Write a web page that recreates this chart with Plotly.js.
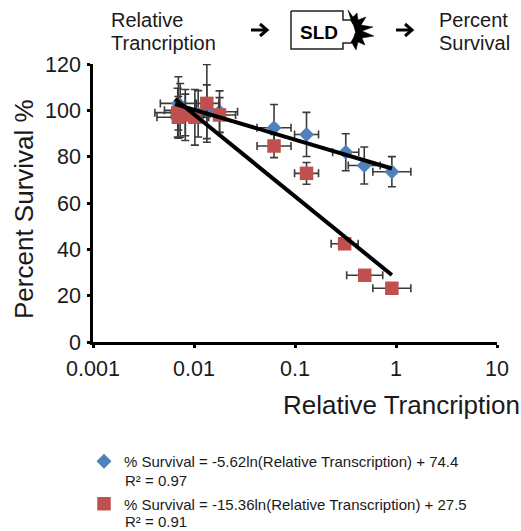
<!DOCTYPE html>
<html><head><meta charset="utf-8">
<script src="https://cdn.plot.ly/plotly-3.0.1.min.js"></script>
<style>html,body{margin:0;padding:0;background:#fff}</style></head>
<body><div id="chart" style="width:521px;height:531px"></div>
<script>
const blueX = [0.0070,0.0073,0.0082,0.0110,0.0134,0.0179,0.062,0.13,0.318,0.485,0.91];
const blueY = [103,100,98,98.5,99.4,99.4,92.5,89.6,81.9,76.2,73.5];
const blueYErr = [11.5,11.6,11,10,11.6,9,10,9.5,8,8,6.5];
const blueXPlus = [0.00356,0.0032,0.0031,0.0035,0.0050,0.0091,0.0293,0.041,0.110,0.213,0.493];
const blueXMinus = [0.00236,0.0022,0.0022,0.0026,0.0037,0.0060,0.0199,0.031,0.082,0.148,0.320];

const redX = [0.0069,0.0070,0.0082,0.0102,0.0134,0.0179,0.062,0.13,0.31,0.49,0.91];
const redY = [99,97,98,97,103,98,84.6,72.8,42.4,28.8,23.2];
const redYErr = [10.5,9,9,12,16.8,7.5,5,4.7,2,1,1.5];
const redXPlus = [0.0048,0.0043,0.0031,0.0038,0.0042,0.0079,0.0293,0.041,0.112,0.249,0.493];
const redXMinus = [0.0028,0.0027,0.0022,0.0028,0.0032,0.0055,0.0199,0.031,0.082,0.165,0.320];

const trendX = [0.0065,0.91];
const blueTrendY = [102.7,74.9];
const redTrendY = [104.9,28.9];

const xTickVals = [0.001,0.01,0.1,1,10];
const xTickText = ['0.001','0.01','0.1','1','10'];
const yTickVals = [0,20,40,60,80,100,120];
const blueName = '% Survival = -5.62ln(Relative Transcription) + 74.4';
const redName = '% Survival = -15.36ln(Relative Transcription) + 27.5';

const FONT = '"Liberation Sans", Arial, sans-serif';
const TEXT = '#1a1a1a';
const W = 521, H = 531, L = 93, R = 497, T = 64, B = 342;
const px = x => (x - L) / (R - L);
const py = y => (B - y) / (B - T);
const pathOf = pts => pts.map((p, i) => (i ? 'L' : 'M') + px(p[0]).toFixed(4) + ',' + py(p[1]).toFixed(4)).join(' ');

function series(name, x, y, yErr, xPlus, xMinus, color, symbol, size, group) {
  const bar = { thickness: 1.6, width: 4, color: '#3a3a3a' };
  return {
    type: 'scatter', mode: 'markers', name, x, y, legendgroup: group,
    marker: { color, symbol, size, line: { width: 0 } },
    error_y: Object.assign({ type: 'data', array: yErr, visible: true }, bar),
    error_x: Object.assign({ type: 'data', symmetric: false, array: xPlus, arrayminus: xMinus, visible: true }, bar),
    hoverinfo: 'x+y'
  };
}
const trend = (y, group) => ({
  type: 'scatter', mode: 'lines', x: trendX, y, showlegend: false, legendgroup: group,
  line: { color: '#000', width: 4 }, hoverinfo: 'skip'
});

const traces = [
  series(blueName, blueX, blueY, blueYErr, blueXPlus, blueXMinus, '#4f81bd', 'diamond', 11.5, 'a'),
  series(redName, redX, redY, redYErr, redXPlus, redXMinus, '#c0504d', 'square', 13.5, 'b'),
  trend(blueTrendY, 'a'),
  trend(redTrendY, 'b')
];

const note = (x, y, text, extra) => Object.assign({
  xref: 'paper', yref: 'paper', x: px(x), y: py(y), text, showarrow: false,
  xanchor: 'left', yanchor: 'middle', align: 'left', font: { family: FONT, size: 20, color: TEXT }
}, extra || {});

const annotations = [
  note(109, 20, 'Relative'),
  note(109, 43, 'Trancription'),
  note(437, 20, 'Percent'),
  note(437, 43, 'Survival'),
  note(319, 32, 'SLD', { xanchor: 'center', font: { family: FONT, size: 19, color: '#000', weight: 'bold' } }),
  note(522, 405, 'Relative Trancription', { xanchor: 'right', font: { family: FONT, size: 26, color: TEXT } }),
  note(24, 209, 'Percent Survival %', { xanchor: 'center', textangle: -90, font: { family: FONT, size: 26, color: TEXT } }),
  note(123, 480, 'R² = 0.97', { font: { family: FONT, size: 15, color: TEXT } }),
  note(123, 521, 'R² = 0.91', { font: { family: FONT, size: 15, color: TEXT } })
];

const boxPts = [[291,11],[343,11],[343,20],[351,20],[354,25],[356,32],[354,38],[351,43],[343,43],[343,49],[291,49],[291,11]];
const sunPts = [[351,20],[348,10],[353,17],[357,13],[358,20],[366,17],[361,25],[373,27],[362,31],[374,36],[362,38],[365,45],[358,42],[356,50],[352,43],[351,43],[354,38],[356,32],[354,25]];
const arrow = x => [
  { type: 'path', xref: 'paper', yref: 'paper', path: pathOf([[x, 30], [x + 16, 30]]), line: { color: '#000', width: 3 } },
  { type: 'path', xref: 'paper', yref: 'paper', path: pathOf([[x + 9, 24], [x + 16, 30], [x + 9, 36]]), line: { color: '#000', width: 3 } }
];
const shapes = [
  { type: 'path', xref: 'paper', yref: 'paper', path: pathOf(boxPts), line: { color: '#222', width: 1.5 }, fillcolor: 'rgba(0,0,0,0)' },
  { type: 'path', xref: 'paper', yref: 'paper', path: pathOf(sunPts) + ' Z', line: { color: '#000', width: 0.5 }, fillcolor: '#000' }
].concat(arrow(251), arrow(396));

const layout = {
  width: W, height: H, autosize: false,
  margin: { l: L, r: W - R, t: T, b: H - B, pad: 0, autoexpand: false },
  paper_bgcolor: '#fff', plot_bgcolor: '#fff',
  font: { family: FONT, color: TEXT },
  showlegend: true,
  legend: {
    x: px(84), y: py(445), xanchor: 'left', yanchor: 'top',
    font: { family: FONT, size: 15, color: TEXT },
    tracegroupgap: 20, itemwidth: 30, bgcolor: 'rgba(0,0,0,0)', traceorder: 'grouped'
  },
  xaxis: {
    type: 'log', range: [-3, 1], tickmode: 'array', tickvals: xTickVals, ticktext: xTickText,
    showgrid: false, zeroline: false, showline: true, linecolor: '#000', linewidth: 2.5,
    ticks: 'outside', ticklen: 3, tickwidth: 2.5, tickcolor: '#000', ticklabelstandoff: 2,
    tickfont: { family: FONT, size: 21.5, color: TEXT }
  },
  yaxis: {
    range: [0, 120], tickmode: 'array', tickvals: yTickVals,
    showgrid: false, zeroline: false, showline: true, linecolor: '#000', linewidth: 2.5,
    ticks: 'outside', ticklen: 3, tickwidth: 2.5, tickcolor: '#000', ticklabelstandoff: 2,
    tickfont: { family: FONT, size: 21.5, color: TEXT }
  },
  annotations, shapes
};
Plotly.newPlot('chart', traces, layout, { displayModeBar: false, responsive: false });
</script></body></html>
